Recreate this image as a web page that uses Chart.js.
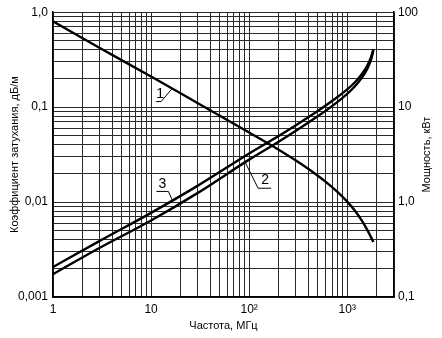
<!DOCTYPE html>
<html>
<head>
<meta charset="utf-8">
<script src="https://cdn.jsdelivr.net/npm/chart.js@4"></script>
<style>
  html, body { margin: 0; padding: 0; background: #fff; }
  #wrap { width: 442px; height: 338px; }
</style>
</head>
<body>
<div id="wrap"><canvas id="chart" width="442" height="338"></canvas></div>
<script>
// ── Data ────────────────────────────────────────────────────────────
// Curve 1: power, kW (right axis)
const freq1  = [1, 3, 10, 30, 100, 200, 300, 400, 600, 800, 1000, 1200, 1400, 1600, 1850];
const power1 = [80, 42, 21, 11, 5.4, 3.56, 2.74, 2.24, 1.64, 1.27, 1.01, 0.81, 0.645, 0.51, 0.38];

// Curves 2 and 3: attenuation, dB/m (left axis)
const freq23 = [1, 3, 10, 30, 100, 200, 300, 500, 700, 1000, 1200, 1400, 1600, 1750, 1850];
const atten3 = [0.00207, 0.0039, 0.0077, 0.0149, 0.0325, 0.0497, 0.0645, 0.091, 0.116, 0.154, 0.183, 0.221, 0.273, 0.336, 0.408];
const atten2 = [0.00174, 0.0033, 0.0064, 0.0125, 0.028, 0.0432, 0.0563, 0.080, 0.1025, 0.138, 0.166, 0.202, 0.253, 0.316, 0.395];

// Tick labels
const xTickValues  = [1, 10, 100, 1000];
const xTickLabels  = ['1', '10', '10²', '10³'];
const yTickValues  = [0.001, 0.01, 0.1, 1];
const yTickLabels  = ['0,001', '0,01', '0,1', '1,0'];
const y2TickValues = [0.1, 1, 10, 100];
const y2TickLabels = ['0,1', '1,0', '10', '100'];

const FONT = '"Liberation Sans", Arial, sans-serif';

// all 1..9 × 10^k grid values between lo and hi
function logGrid(lo, hi) {
    const out = [];
    for (let e = Math.floor(Math.log10(lo)); e <= Math.ceil(Math.log10(hi)); e++) {
        for (let m = 1; m <= 9; m++) {
            const v = Number((m * Math.pow(10, e)).toPrecision(3));
            if (v >= lo * 0.999 && v <= hi * 1.001) out.push(v);
        }
    }
    return out;
}

function labelFor(values, labels) {
    return v => {
        const i = values.findIndex(t => Math.abs(t - v) / t < 1e-6);
        return i >= 0 ? labels[i] : '';
    };
}

function pts(xs, ys) { return xs.map((x, i) => ({ x, y: ys[i] })); }

// log-log interpolation along a series
function interpLog(xs, ys, x) {
    for (let i = 1; i < xs.length; i++) {
        if (x <= xs[i]) {
            const t = (Math.log(x) - Math.log(xs[i - 1])) / (Math.log(xs[i]) - Math.log(xs[i - 1]));
            return Math.exp(Math.log(ys[i - 1]) + t * (Math.log(ys[i]) - Math.log(ys[i - 1])));
        }
    }
    return ys[ys.length - 1];
}

// Curve labels with leader lines: anchor is a point on the curve
const curveLabels = [
    { text: '1', xs: freq1,  ys: power1, axis: 'y2', at: 16.4, knee: [-11, 13],  tail: [-16, 13],  txt: [-12, 6] },
    { text: '3', xs: freq23, ys: atten3, axis: 'y',  at: 16.5, knee: [-4, -9],   tail: [-16, -9],  txt: [-10, -16] },
    { text: '2', xs: freq23, ys: atten2, axis: 'y',  at: 91,   knee: [13, 26],   tail: [26, 26],   txt: [20, 18] }
];

const annotate = {
    id: 'annotate',
    afterDatasetsDraw(chart) {
        const ctx = chart.ctx;
        const sx = chart.scales.x;
        ctx.save();
        ctx.strokeStyle = '#000';
        ctx.fillStyle = '#000';
        ctx.lineWidth = 1;
        ctx.font = '14px ' + FONT;
        ctx.textAlign = 'center';
        ctx.textBaseline = 'middle';
        curveLabels.forEach(l => {
            const ax = sx.getPixelForValue(l.at);
            const ay = chart.scales[l.axis].getPixelForValue(interpLog(l.xs, l.ys, l.at));
            ctx.beginPath();
            ctx.moveTo(ax + l.tail[0], ay + l.tail[1]);
            ctx.lineTo(ax + l.knee[0], ay + l.knee[1]);
            ctx.lineTo(ax, ay);
            ctx.stroke();
            ctx.fillText(l.text, ax + l.txt[0], ay + l.txt[1]);
        });

        // right axis title, reading bottom to top
        const a = chart.chartArea;
        ctx.font = '11px ' + FONT;
        ctx.translate(427, (a.top + a.bottom) / 2);
        ctx.rotate(-Math.PI / 2);
        ctx.fillText('Мощность, кВт', 0, 0);
        ctx.restore();
    }
};

const gridStyle = { color: '#2a2a2a', lineWidth: 1, drawTicks: false, tickLength: 0 };
const borderStyle = { display: true, color: '#000', width: 1.5 };
const tickFont = { family: FONT, size: 12 };

new Chart(document.getElementById('chart'), {
    type: 'line',
    data: {
        datasets: [
            { label: '1', data: pts(freq1, power1),  yAxisID: 'y2' },
            { label: '2', data: pts(freq23, atten2), yAxisID: 'y' },
            { label: '3', data: pts(freq23, atten3), yAxisID: 'y' }
        ].map(d => Object.assign(d, {
            borderColor: '#000', borderWidth: 2.4, pointRadius: 0,
            cubicInterpolationMode: 'monotone', fill: false
        }))
    },
    plugins: [annotate],
    options: {
        responsive: false,
        animation: false,
        layout: { padding: { top: 9, left: 0, right: 0, bottom: 0 } },
        plugins: { legend: { display: false }, tooltip: { enabled: false } },
        scales: {
            x: {
                type: 'logarithmic', position: 'bottom', min: 1, max: 3000,
                afterBuildTicks: s => { s.ticks = logGrid(1, 3000).map(v => ({ value: v })); },
                afterFit: s => { s.height = 41; },
                ticks: { callback: labelFor(xTickValues, xTickLabels), autoSkip: false, maxRotation: 0,
                         padding: 5, color: '#000', font: tickFont },
                grid: gridStyle, border: borderStyle,
                title: { display: true, text: 'Частота, МГц', color: '#000',
                         font: { family: FONT, size: 11 }, padding: { top: 0, bottom: 5 } }
            },
            y: {
                type: 'logarithmic', position: 'left', min: 0.001, max: 1,
                afterBuildTicks: s => { s.ticks = logGrid(0.001, 1).map(v => ({ value: v })); },
                afterFit: s => { s.width = 53; },
                ticks: { callback: labelFor(yTickValues, yTickLabels), autoSkip: false,
                         padding: 5, color: '#000', font: tickFont },
                grid: gridStyle, border: borderStyle,
                title: { display: true, text: 'Коэффициент затухания, дБ/м', color: '#000',
                         font: { family: FONT, size: 11 }, padding: { top: 8, bottom: 0 } }
            },
            y2: {
                type: 'logarithmic', position: 'right', min: 0.1, max: 100,
                afterBuildTicks: s => { s.ticks = logGrid(0.1, 100).map(v => ({ value: v })); },
                afterFit: s => { s.width = 48; },
                ticks: { callback: labelFor(y2TickValues, y2TickLabels), autoSkip: false,
                         padding: 4, color: '#000', font: tickFont },
                grid: { drawOnChartArea: false, drawTicks: false, tickLength: 0 },
                border: borderStyle
            }
        }
    }
});
</script>
</body>
</html>
